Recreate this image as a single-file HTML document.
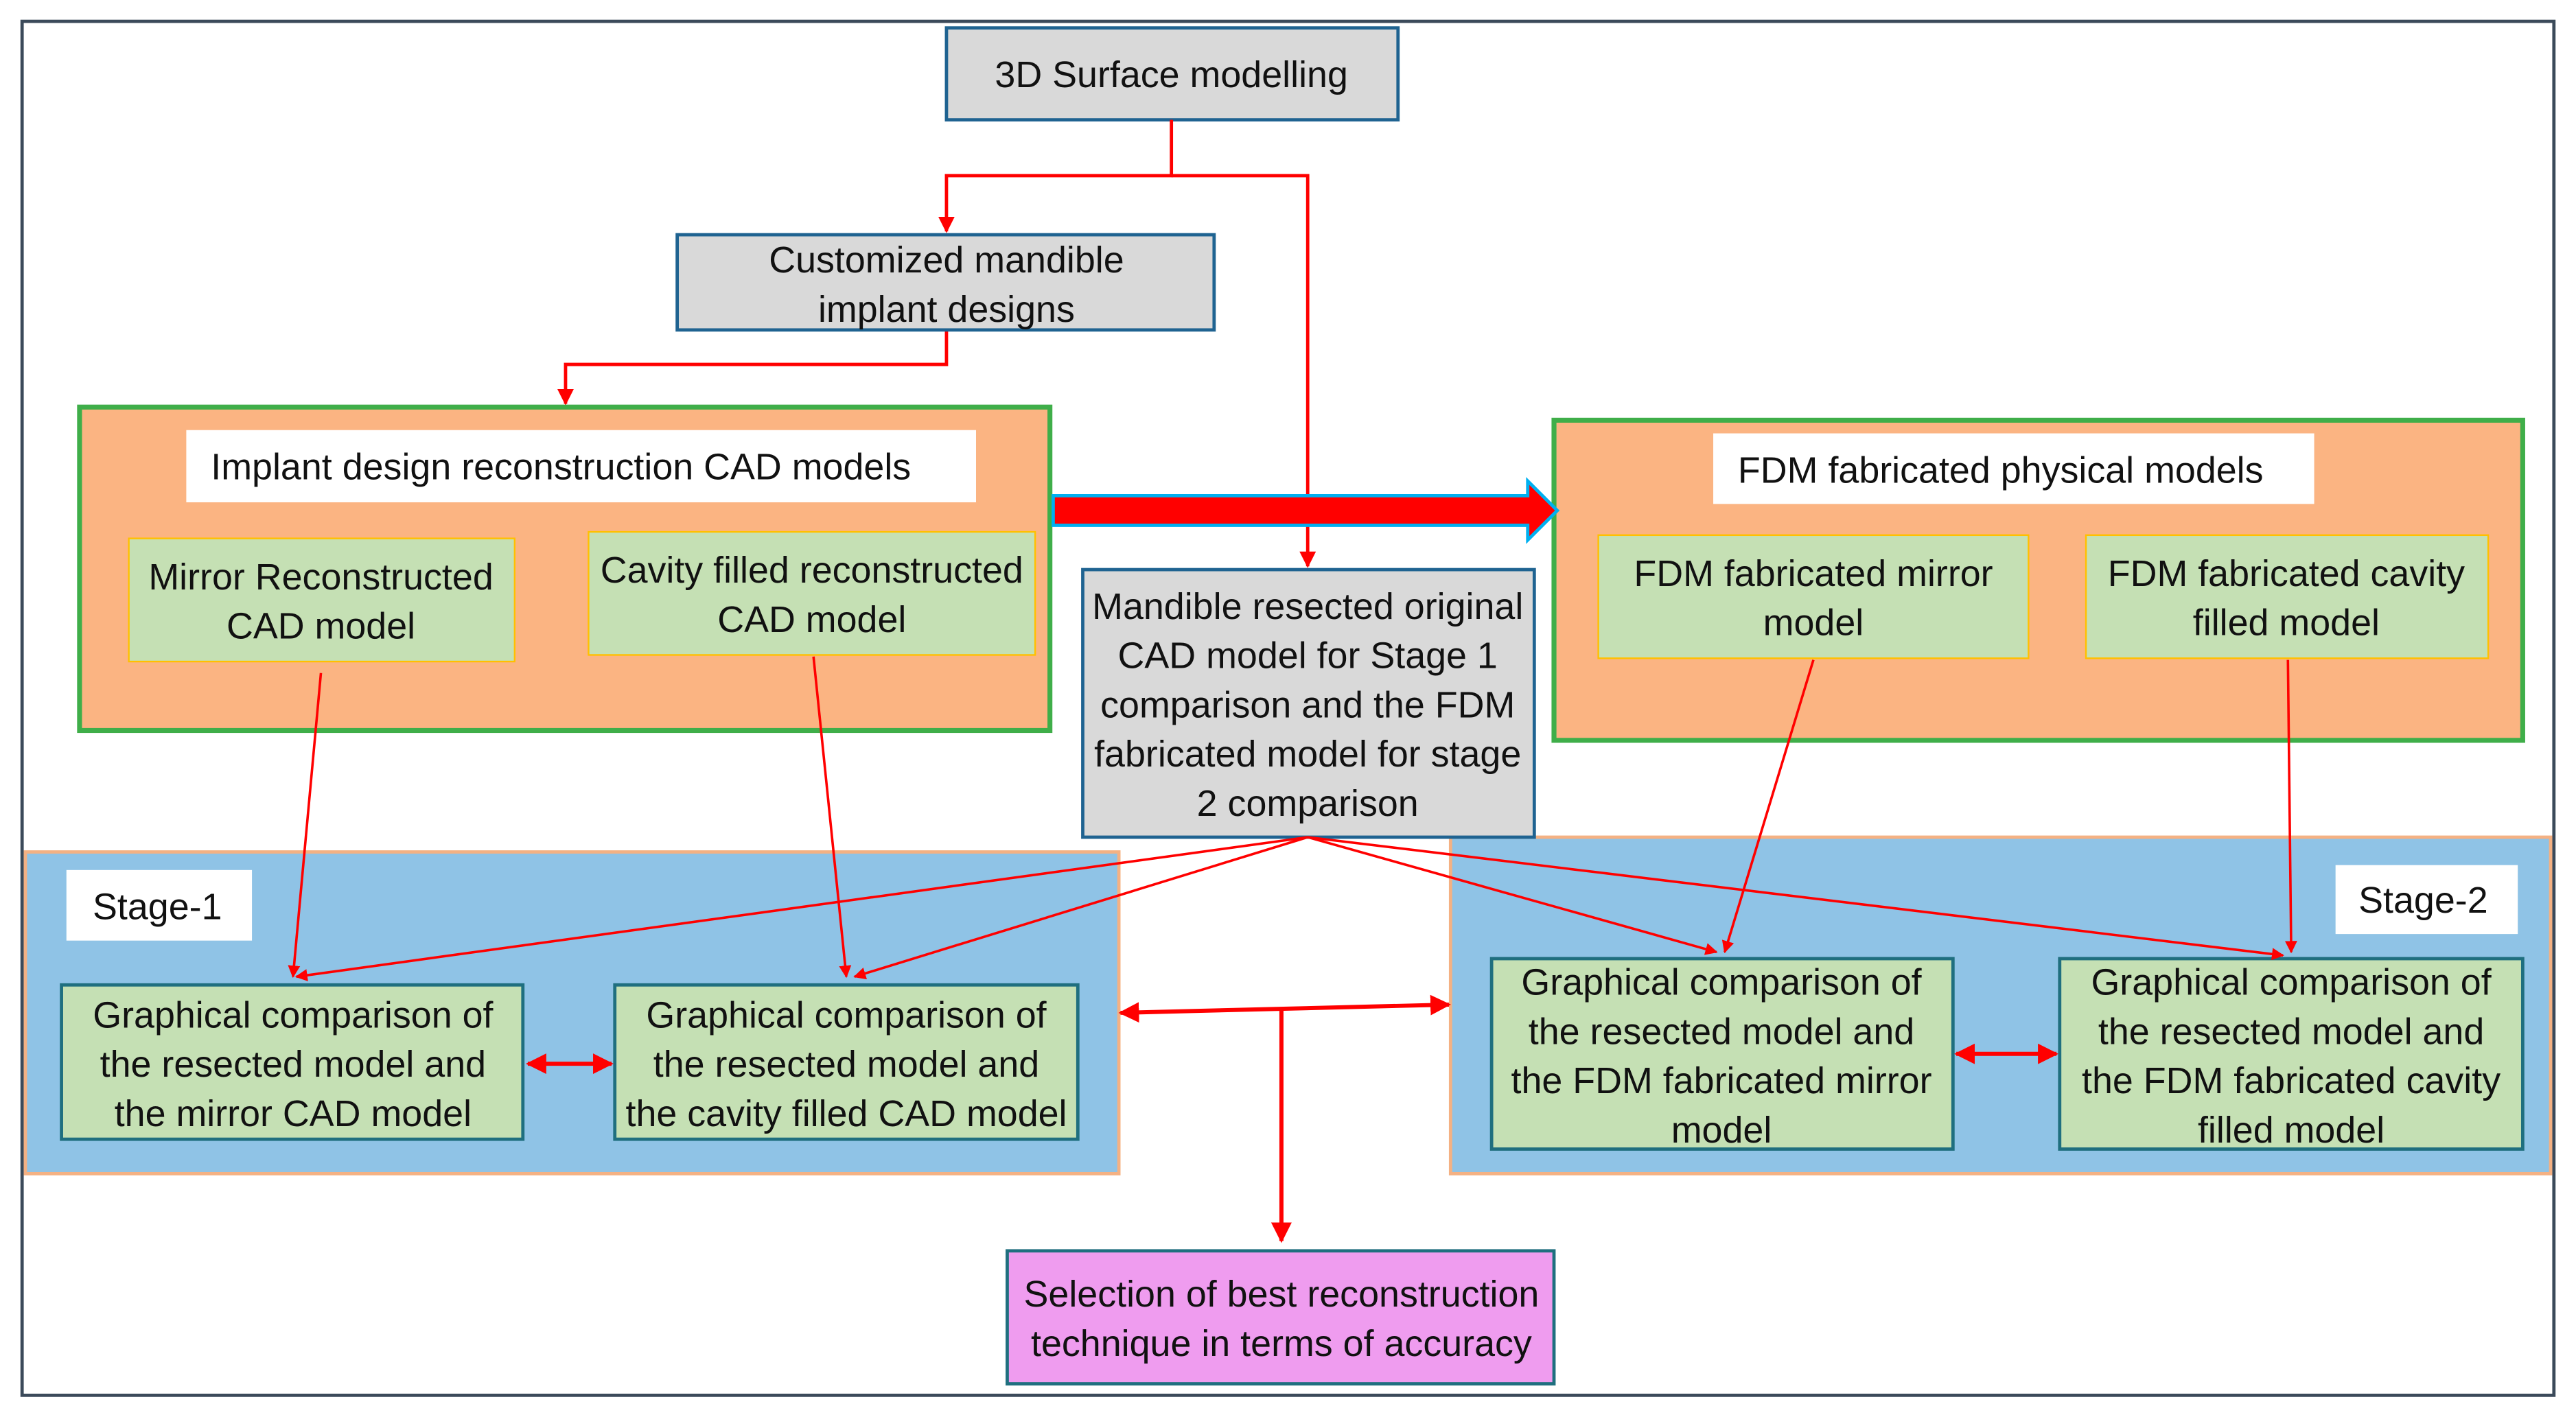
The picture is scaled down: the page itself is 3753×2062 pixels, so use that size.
<!DOCTYPE html>
<html><head><meta charset="utf-8"><style>
html,body{margin:0;padding:0;background:#fff;}
svg{display:block;}
text{font-family:"Liberation Sans",sans-serif;font-size:22.5px;fill:#111;}
</style></head><body>
<svg width="3753" height="2062" viewBox="0 0 1568 862" xmlns="http://www.w3.org/2000/svg">
<defs>
<marker id="a" viewBox="0 0 10 10" refX="9" refY="5" markerWidth="5" markerHeight="5" orient="auto-start-reverse"><path d="M0,0L10,5L0,10z" fill="#f00"/></marker>
</defs>
<rect x="0" y="0" width="1568" height="862" fill="#fff"/>
<rect x="13" y="13" width="1542" height="837" fill="none" stroke="#3b4a5a" stroke-width="2"/>

<rect x="576" y="17" width="275" height="56" fill="#d9d9d9" stroke="#1f6391" stroke-width="2"/>
<text x="713" y="53" text-anchor="middle">3D Surface modelling</text>

<g stroke="#f00" stroke-width="2" fill="none">
<polyline points="713,73 713,107 576,107 576,141" marker-end="url(#a)"/>
<polyline points="713,107 796,107 796,345" marker-end="url(#a)"/>
<polyline points="576,201 576,222 344,222 344,246" marker-end="url(#a)"/>
</g>

<rect x="412" y="143" width="327" height="58" fill="#d9d9d9" stroke="#1f6391" stroke-width="2"/>
<text x="576" y="166" text-anchor="middle">Customized mandible</text>
<text x="576" y="196" text-anchor="middle">implant designs</text>

<rect x="48" y="248" width="591" height="197" fill="#fbb482" stroke="#3fae49" stroke-width="3"/>
<rect x="113" y="262" width="481" height="44" fill="#fff"/>
<text x="128" y="292">Implant design reconstruction CAD models</text>
<rect x="78" y="328" width="235" height="75" fill="#c5e0b4" stroke="#ffc000" stroke-width="1"/>
<text x="195" y="359" text-anchor="middle">Mirror Reconstructed</text>
<text x="195" y="389" text-anchor="middle">CAD model</text>
<rect x="358" y="324" width="272" height="75" fill="#c5e0b4" stroke="#ffc000" stroke-width="1"/>
<text x="494" y="355" text-anchor="middle">Cavity filled reconstructed</text>
<text x="494" y="385" text-anchor="middle">CAD model</text>

<rect x="946" y="256" width="590" height="195" fill="#fbb482" stroke="#3fae49" stroke-width="3"/>
<rect x="1043" y="264" width="366" height="43" fill="#fff"/>
<text x="1058" y="294">FDM fabricated physical models</text>
<rect x="973" y="326" width="262" height="75" fill="#c5e0b4" stroke="#ffc000" stroke-width="1"/>
<text x="1104" y="357" text-anchor="middle">FDM fabricated mirror</text>
<text x="1104" y="387" text-anchor="middle">model</text>
<rect x="1270" y="326" width="245" height="75" fill="#c5e0b4" stroke="#ffc000" stroke-width="1"/>
<text x="1392" y="357" text-anchor="middle">FDM fabricated cavity</text>
<text x="1392" y="387" text-anchor="middle">filled model</text>

<path d="M641,302 L930,302 L930,293 L948,311 L930,329 L930,320 L641,320 Z" fill="#f00" stroke="#00b0f0" stroke-width="2"/>

<rect x="15" y="519" width="666" height="196" fill="#8fc3e6" stroke="#f4b183" stroke-width="2"/>
<rect x="40" y="530" width="113" height="43" fill="#fff"/>
<text x="56" y="560">Stage-1</text>
<rect x="883" y="510" width="670" height="205" fill="#8fc3e6" stroke="#f4b183" stroke-width="2"/>
<rect x="1422" y="527" width="111" height="42" fill="#fff"/>
<text x="1436" y="556">Stage-2</text>

<rect x="659" y="347" width="275" height="163" fill="#d9d9d9" stroke="#1f6391" stroke-width="2"/>
<text x="796" y="377" text-anchor="middle">Mandible resected original</text>
<text x="796" y="407" text-anchor="middle">CAD model for Stage 1</text>
<text x="796" y="437" text-anchor="middle">comparison and the FDM</text>
<text x="796" y="467" text-anchor="middle">fabricated model for stage</text>
<text x="796" y="497" text-anchor="middle">2 comparison</text>

<g fill="#c5e0b4" stroke="#1f6f7f" stroke-width="2">
<rect x="37" y="600" width="281" height="94"/>
<rect x="374" y="600" width="282" height="94"/>
<rect x="908" y="584" width="281" height="116"/>
<rect x="1254" y="584" width="282" height="116"/>
</g>
<text x="178" y="626" text-anchor="middle">Graphical comparison of</text>
<text x="178" y="656" text-anchor="middle">the resected model and</text>
<text x="178" y="686" text-anchor="middle">the mirror CAD model</text>
<text x="515" y="626" text-anchor="middle">Graphical comparison of</text>
<text x="515" y="656" text-anchor="middle">the  resected model and</text>
<text x="515" y="686" text-anchor="middle">the cavity filled CAD model</text>
<text x="1048" y="606" text-anchor="middle">Graphical comparison of</text>
<text x="1048" y="636" text-anchor="middle">the resected model and</text>
<text x="1048" y="666" text-anchor="middle">the  FDM fabricated mirror</text>
<text x="1048" y="696" text-anchor="middle">model</text>
<text x="1395" y="606" text-anchor="middle">Graphical comparison of</text>
<text x="1395" y="636" text-anchor="middle">the  resected model and</text>
<text x="1395" y="666" text-anchor="middle">the FDM fabricated cavity</text>
<text x="1395" y="696" text-anchor="middle">filled model</text>

<rect x="613" y="762" width="333" height="81" fill="#ef9cef" stroke="#1f6f7f" stroke-width="2"/>
<text x="780" y="796" text-anchor="middle">Selection of best reconstruction</text>
<text x="780" y="826" text-anchor="middle">technique  in terms of accuracy</text>

<g stroke="#f00" stroke-width="1.5" fill="none">
<line x1="195" y1="410" x2="178" y2="595" marker-end="url(#a)"/>
<line x1="495" y1="400" x2="515" y2="595" marker-end="url(#a)"/>
<line x1="1104" y1="402" x2="1050" y2="580" marker-end="url(#a)"/>
<line x1="1393" y1="402" x2="1395" y2="580" marker-end="url(#a)"/>
<line x1="796" y1="510" x2="180" y2="595" marker-end="url(#a)"/>
<line x1="796" y1="510" x2="520" y2="595" marker-end="url(#a)"/>
<line x1="796" y1="510" x2="1045" y2="580" marker-end="url(#a)"/>
<line x1="796" y1="510" x2="1390" y2="582" marker-end="url(#a)"/>
</g>
<g stroke="#f00" stroke-width="2.5" fill="none">
<line x1="321" y1="648" x2="372" y2="648" marker-start="url(#a)" marker-end="url(#a)"/>
<line x1="1191" y1="642" x2="1252" y2="642" marker-start="url(#a)" marker-end="url(#a)"/>
<line x1="682" y1="617" x2="882" y2="612" marker-start="url(#a)" marker-end="url(#a)"/>
<line x1="780" y1="615" x2="780" y2="756" marker-end="url(#a)"/>
</g>
</svg>
</body></html>
